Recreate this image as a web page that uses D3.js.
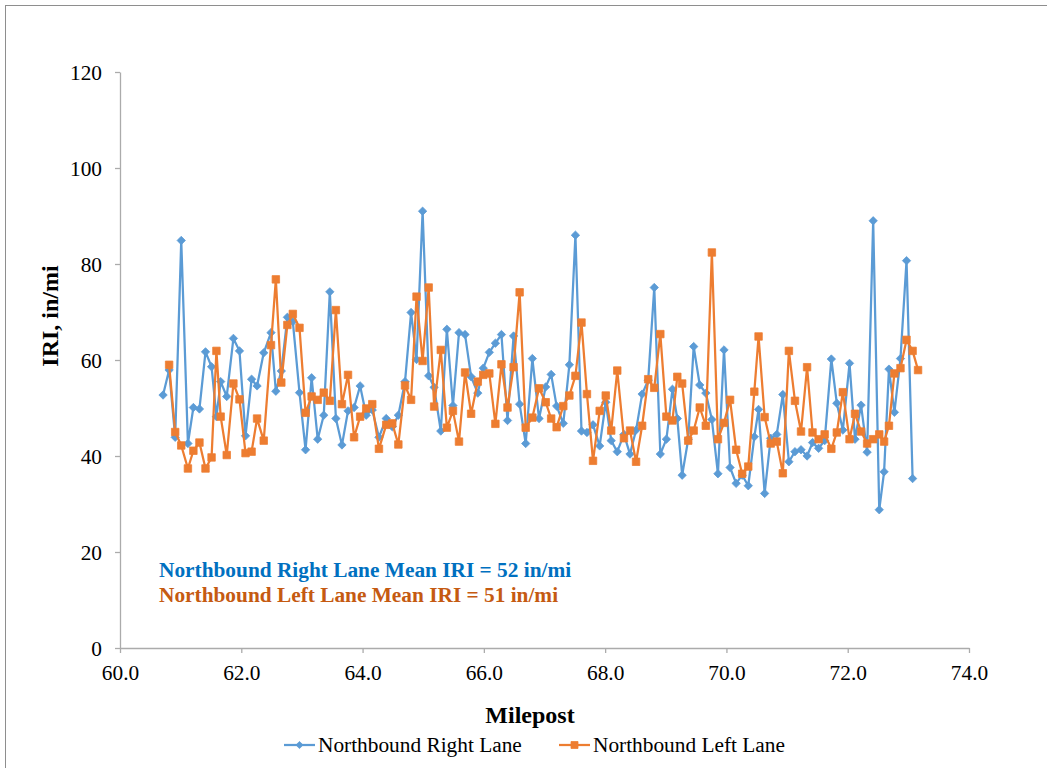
<!DOCTYPE html>
<html>
<head>
<meta charset="utf-8">
<script src="https://cdn.jsdelivr.net/npm/d3@7"></script>
<style>
  html, body { margin: 0; padding: 0; background: #fff; }
  svg { display: block; }
  text { font-family: "Liberation Serif", "Times New Roman", serif; }
</style>
</head>
<body>
<svg id="chart" width="1047" height="768"></svg>
<script>
// ---- data ----
const mileposts = [
  60.71, 60.81, 60.91, 61.01, 61.12, 61.21, 61.31, 61.41, 61.51, 61.59,
  61.66, 61.76, 61.87, 61.97, 62.07, 62.17, 62.26, 62.37, 62.49, 62.57,
  62.66, 62.76, 62.85, 62.96, 63.06, 63.16, 63.26, 63.36, 63.46, 63.56,
  63.66, 63.76, 63.86, 63.96, 64.06, 64.16, 64.27, 64.39, 64.49, 64.59,
  64.70, 64.80, 64.89, 64.99, 65.09, 65.18, 65.29, 65.39, 65.49, 65.59,
  65.69, 65.79, 65.90, 65.99, 66.09, 66.19, 66.29, 66.39, 66.49, 66.59,
  66.69, 66.80, 66.91, 67.02, 67.11, 67.20, 67.31, 67.41, 67.51, 67.61,
  67.70, 67.80, 67.91, 68.01, 68.10, 68.20, 68.31, 68.41, 68.51, 68.61,
  68.71, 68.81, 68.91, 69.01, 69.11, 69.19, 69.27, 69.37, 69.46, 69.56,
  69.66, 69.76, 69.86, 69.96, 70.06, 70.16, 70.26, 70.36, 70.46, 70.53,
  70.63, 70.73, 70.83, 70.93, 71.03, 71.13, 71.23, 71.33, 71.42, 71.52,
  71.62, 71.73, 71.82, 71.92, 72.03, 72.12, 72.22, 72.32, 72.42, 72.52,
  72.60, 72.68, 72.77, 72.87, 72.97, 73.07, 73.16
];

// Northbound Right Lane IRI (in/mi); null = no reading at that milepost
const rightLane = [
  52.7, 57.9, 43.9, 84.9, 42.6, 50.1, 49.8, 61.7, 58.6, 48.2,
  55.5, 52.4, 64.5, 61.9, 44.2, 56.0, 54.6, 61.5, 65.7, 53.5,
  57.7, 68.9, 68.0, 53.2, 41.3, 56.3, 43.5, 48.5, 74.2, 47.8,
  42.3, 49.4, 50.1, 54.6, 48.5, 49.6, 43.9, 47.8, 46.1, 48.5,
  55.5, 69.9, 60.1, 91.0, 56.7, 54.3, 45.2, 66.4, 50.5, 65.7,
  65.3, 56.5, 53.1, 58.3, 61.6, 63.5, 65.3, 47.4, 65.0, 50.8,
  42.6, 60.3, 47.8, 54.4, 57.0, 50.4, 46.8, 59.0, 86.0, 45.2,
  44.9, 46.5, 42.1, 51.2, 43.2, 40.9, 44.5, 40.4, 45.4, 52.9,
  55.8, 75.1, 40.4, 43.5, 53.9, 47.8, 36.0, 43.5, 62.8, 54.8,
  53.1, 47.6, 36.3, 62.1, 37.6, 34.3, 36.0, 33.8, 44.0, 49.7,
  32.2, 43.7, 44.5, 52.8, 38.8, 40.9, 41.3, 40.0, 42.8, 41.6,
  43.2, 60.2, 51.0, 45.4, 59.3, 43.5, 50.6, 40.8, 89.0, 28.8,
  36.7, 58.1, 49.1, 60.3, 80.7, 35.3, null
];

// Northbound Left Lane IRI (in/mi)
const leftLane = [
  null, 59.0, 45.0, 42.2, 37.4, 41.1, 42.8, 37.4, 39.7, 61.9,
  48.2, 40.2, 55.1, 51.8, 40.6, 40.9, 47.8, 43.2, 63.1, 76.8,
  55.3, 67.3, 69.6, 66.7, 49.0, 52.4, 51.7, 53.2, 51.5, 70.4,
  50.8, 56.9, 43.9, 48.2, 49.9, 50.8, 41.5, 46.5, 46.8, 42.4,
  54.7, 51.7, 73.2, 59.8, 75.1, 50.3, 62.1, 45.9, 49.4, 43.0,
  57.4, 48.8, 55.5, 56.9, 57.2, 46.7, 59.1, 50.1, 58.5, 74.1,
  45.9, 48.0, 54.1, 51.2, 47.8, 46.0, 50.4, 52.6, 56.7, 67.8,
  52.9, 39.0, 49.4, 52.6, 45.3, 57.8, 43.7, 45.3, 38.8, 46.3,
  56.0, 54.2, 65.4, 48.2, 47.4, 56.5, 55.1, 43.2, 45.3, 50.1,
  46.3, 82.4, 43.5, 46.9, 51.7, 41.3, 36.3, 37.8, 53.4, 64.9,
  48.1, 42.6, 43.0, 36.4, 61.9, 51.5, 45.1, 58.5, 44.9, 43.5,
  44.5, 41.5, 44.9, 53.3, 43.5, 48.8, 45.1, 42.6, 43.5, 44.5,
  43.0, 46.3, 57.2, 58.3, 64.2, 61.9, 57.9
];

const seriesNames = ["Northbound Right Lane", "Northbound Left Lane"];
const annotations = [
  "Northbound Right Lane Mean IRI = 52 in/mi",
  "Northbound Left Lane Mean IRI = 51 in/mi"
];
const xTicks = [60, 62, 64, 66, 68, 70, 72, 74];
const yTicks = [0, 20, 40, 60, 80, 100, 120];
const xTitle = "Milepost";
const yTitle = "IRI, in/mi";

// ---- layout ----
const W = 1047, H = 768;
const plot = { left: 120, right: 969, top: 72, bottom: 648 };
const blue = "#5B9BD5", orange = "#ED7D31";
const axisColor = "#ABABAB";
const FONT = 21.33;

const svg = d3.select("#chart");

// outer chart border
svg.append("rect")
  .attr("x", 5.5).attr("y", 5.5)
  .attr("width", W + 20).attr("height", H + 20)
  .attr("fill", "#fff").attr("stroke", "#8E8E8E").attr("stroke-width", 1);

const x = d3.scaleLinear().domain([60, 74]).range([plot.left, plot.right]);
const y = d3.scaleLinear().domain([0, 120]).range([plot.bottom, plot.top]);

// y axis
const yAxis = svg.append("g")
  .attr("transform", `translate(${plot.left},0)`)
  .call(d3.axisLeft(y).tickValues(yTicks).tickFormat(d3.format("d"))
    .tickSize(5).tickSizeOuter(0).tickPadding(13));
// x axis
const xAxis = svg.append("g")
  .attr("transform", `translate(0,${plot.bottom})`)
  .call(d3.axisBottom(x).tickValues(xTicks).tickFormat(d3.format(".1f"))
    .tickSize(5).tickSizeOuter(0).tickPadding(12));

[yAxis, xAxis].forEach(g => {
  g.select(".domain").attr("stroke", axisColor).attr("stroke-width", 1.3);
  g.selectAll(".tick line").attr("stroke", axisColor).attr("stroke-width", 1.3);
  g.selectAll(".tick text")
    .attr("fill", "#000")
    .style("font-family", '"Liberation Serif", "Times New Roman", serif')
    .style("font-size", FONT + "px");
});
yAxis.selectAll(".tick text").attr("dy", "0.33em");

// axis titles
svg.append("text")
  .attr("x", 530).attr("y", 723)
  .attr("text-anchor", "middle")
  .style("font-size", "24px").style("font-weight", "bold")
  .text(xTitle);

svg.append("text")
  .attr("transform", "translate(58,316) rotate(-90)")
  .attr("text-anchor", "middle")
  .style("font-size", "24px").style("font-weight", "bold")
  .text(yTitle);

// series
function diamondPath(r) {
  return `M0,${-r}L${r},0L0,${r}L${-r},0Z`;
}
function squarePath(s) {
  const h = s / 2;
  return `M${-h},${-h}H${h}V${h}H${-h}Z`;
}

const seriesDefs = [
  { values: rightLane, color: blue, marker: diamondPath(4.2) },
  { values: leftLane, color: orange, marker: squarePath(7.5) }
];

seriesDefs.forEach(s => {
  const pts = mileposts.map((m, i) => ({ m, v: s.values[i] }))
    .filter(d => d.v !== null && d.v !== undefined);
  const line = d3.line().x(d => x(d.m)).y(d => y(d.v));
  const g = svg.append("g");
  g.append("path")
    .datum(pts)
    .attr("d", line)
    .attr("fill", "none")
    .attr("stroke", s.color)
    .attr("stroke-width", 2.25)
    .attr("stroke-linejoin", "round");
  g.selectAll("path.mk")
    .data(pts)
    .join("path")
    .attr("class", "mk")
    .attr("d", s.marker)
    .attr("transform", d => `translate(${x(d.m)},${y(d.v)})`)
    .attr("fill", s.color)
    .attr("stroke", s.color)
    .attr("stroke-width", 0.75);
});

// mean annotations
svg.append("text")
  .attr("x", 159).attr("y", 577)
  .style("font-size", FONT + "px").style("font-weight", "bold")
  .attr("fill", "#0070C0")
  .text(annotations[0]);
svg.append("text")
  .attr("x", 159).attr("y", 602)
  .style("font-size", FONT + "px").style("font-weight", "bold")
  .attr("fill", "#C55A11")
  .text(annotations[1]);

// legend
const legendItems = [
  { name: seriesNames[0], color: blue, marker: diamondPath(3.6), x0: 284 },
  { name: seriesNames[1], color: orange, marker: squarePath(7), x0: 559 }
];
const ly = 745;
legendItems.forEach(it => {
  const g = svg.append("g");
  g.append("line")
    .attr("x1", it.x0).attr("x2", it.x0 + 31)
    .attr("y1", ly).attr("y2", ly)
    .attr("stroke", it.color).attr("stroke-width", 2.25);
  g.append("path")
    .attr("d", it.marker)
    .attr("transform", `translate(${it.x0 + 15.5},${ly})`)
    .attr("fill", it.color).attr("stroke", it.color).attr("stroke-width", 0.75);
  g.append("text")
    .attr("x", it.x0 + 34).attr("y", ly + 7)
    .style("font-size", FONT + "px")
    .text(it.name);
});
</script>
</body>
</html>
